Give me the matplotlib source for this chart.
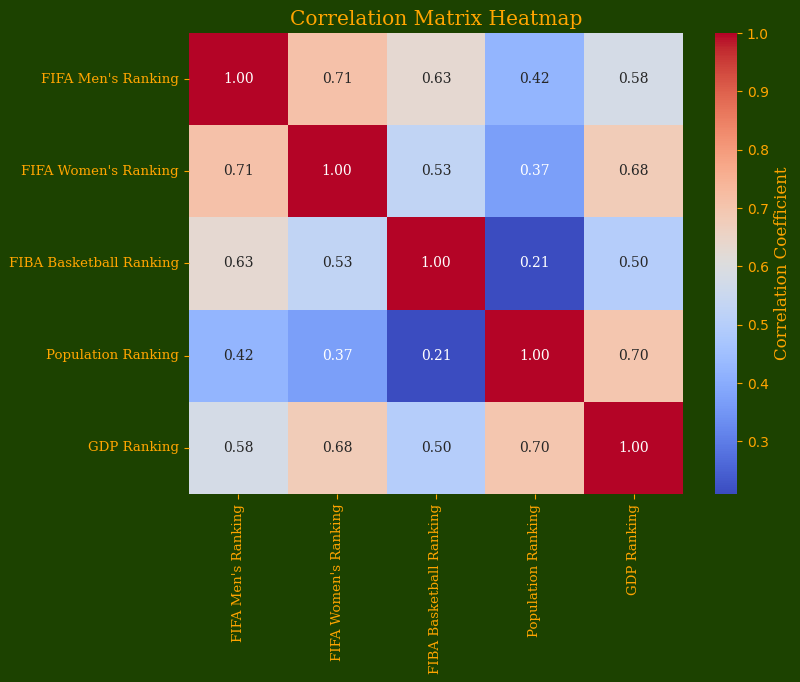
import numpy as np
import pandas as pd
import matplotlib
matplotlib.use('Agg')
import matplotlib.pyplot as plt
import seaborn as sns

#Labels and correlation values
labels = ["FIFA Men's Ranking", "FIFA Women's Ranking", "FIBA Basketball Ranking",
          "Population Ranking", "GDP Ranking"]
row_men = [1.00, 0.71, 0.63, 0.42, 0.58]
row_women = [0.71, 1.00, 0.53, 0.37, 0.68]
row_fiba = [0.63, 0.53, 1.00, 0.21, 0.50]
row_pop = [0.42, 0.37, 0.21, 1.00, 0.70]
row_gdp = [0.58, 0.68, 0.50, 0.70, 1.00]

corr = pd.DataFrame([row_men, row_women, row_fiba, row_pop, row_gdp], index=labels, columns=labels)

bg = '#1c4200'
fg = 'orange'
plt.rcParams['font.family'] = ['DejaVu Serif']

fig = plt.figure(figsize=(8, 6.82), dpi=100, facecolor=bg)
ax = fig.add_axes([0.236, 0.2757, 0.618, 0.6759])
cax = fig.add_axes([0.894, 0.2757, 0.0275, 0.6759])
ax.set_facecolor(bg)

sns.heatmap(corr, annot=True, fmt='.2f', cmap='coolwarm', ax=ax, cbar_ax=cax,
            annot_kws={'size': 10, 'family': 'DejaVu Serif'},
            cbar_kws={'label': 'Correlation Coefficient'})

ax.set_title('Correlation Matrix Heatmap', color=fg, fontsize=14.5)
ax.tick_params(colors=fg, labelsize=9.6)
plt.setp(ax.get_xticklabels(), rotation=90, color=fg)
plt.setp(ax.get_yticklabels(), rotation=0, color=fg)

cax.tick_params(colors=fg, labelsize=10)
for t in cax.get_yticklabels():
    t.set_family('DejaVu Sans')
cax.yaxis.label.set_color(fg)
cax.yaxis.label.set_size(12)

fig.savefig('out.png', facecolor=bg)
